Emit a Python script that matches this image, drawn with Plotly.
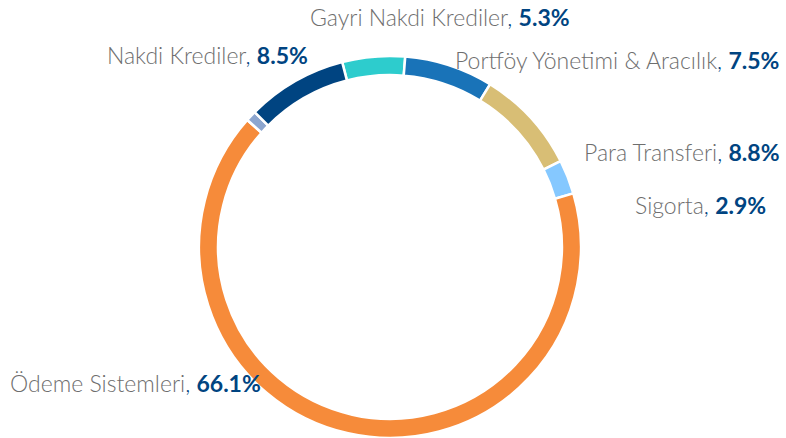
import plotly.graph_objects as go

categories = ["Gayri Nakdi Krediler", "Portföy Yönetimi & Aracılık", "Para Transferi",
              "Sigorta", "Ödeme Sistemleri", "Diğer", "Nakdi Krediler"]
values = [5.3, 7.5, 8.8, 2.9, 66.1, 0.9, 8.5]
colors = ["#2DCCCD", "#1973B8", "#D8BE75", "#85C8FF", "#F68B3A", "#8DA6CF", "#004481"]
show_label = [True, True, True, True, True, False, True]

# label centre positions (pixels from left / top)
label_pos = {
    "Gayri Nakdi Krediler": (440, 17),
    "Nakdi Krediler": (207, 55),
    "Portföy Yönetimi & Aracılık": (617, 60),
    "Para Transferi": (682, 152),
    "Sigorta": (700, 205),
    "Ödeme Sistemleri": (135, 383),
}

W, H = 786, 438
R = 192

fig = go.Figure()
fig.add_trace(go.Pie(
    labels=categories,
    values=values,
    sort=False,
    direction="clockwise",
    rotation=-14.5,
    hole=0.9,
    marker=dict(colors=colors, line=dict(color="white", width=2.5)),
    textinfo="none",
    hoverinfo="label+percent",
    showlegend=False,
    domain=dict(x=[(390 - R) / W, (390 + R) / W], y=[0, 1 - (248 - R) / H]),
))

for cat, val, show in zip(categories, values, show_label):
    if not show:
        continue
    px, py = label_pos[cat]
    fig.add_annotation(
        x=px / W, y=1 - py / H, xref="paper", yref="paper",
        xanchor="center", yanchor="middle", showarrow=False,
        text=f"{cat}<span style='color:#004481'>, <b>{val:.1f}%</b></span>",
        font=dict(family="Lato", size=23, color="#6E6E6E", weight=300),
    )

fig.update_layout(
    width=W, height=H,
    margin=dict(l=0, r=0, t=0, b=0),
    paper_bgcolor="white", plot_bgcolor="white",
)

fig.write_html("out.html", config={"displayModeBar": False},
               post_script="document.body.style.margin='0px';")
